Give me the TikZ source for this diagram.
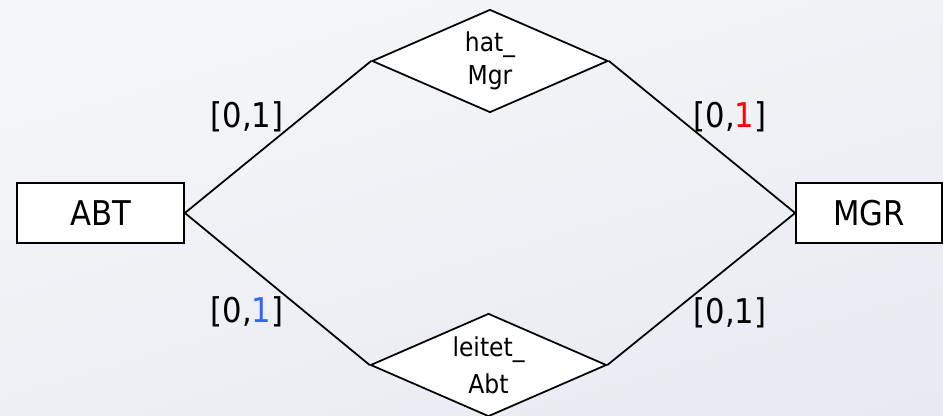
\documentclass[tikz,border=0pt]{standalone}
\usepackage{fontspec}
\setmainfont{DejaVu Sans Condensed}
\usepackage{xcolor}
\usetikzlibrary{shapes.geometric,positioning,calc,shadings}
\definecolor{bgtop}{RGB}{246,247,249}
\definecolor{bgbottom}{RGB}{231,234,241}
\definecolor{cardred}{RGB}{255,0,0}
\definecolor{cardblue}{RGB}{51,102,255}
\tikzset{
    entity/.style={rectangle, draw, fill=white, line width=1pt, minimum height=1.2cm, inner sep=0pt, font=\fontsize{19.4}{23}\selectfont},
    relation/.style={diamond, draw, fill=white, line width=1pt, aspect=2.3, inner sep=0pt, minimum width=4.72cm, minimum height=2.06cm, align=center, font=\fontsize{14.8}{16}\selectfont},
    link/.style={draw, line width=1pt},
    card/.style={inner sep=0pt, font=\fontsize{19.4}{23}\selectfont}
}
\begin{document}
\begin{tikzpicture}
    % Background
    \useasboundingbox (0,0) rectangle (18.86,8.32);
    \shade [upper left=bgtop, upper right=bgtop!60!bgbottom, lower left=bgtop!40!bgbottom, lower right=bgbottom] (0,0) rectangle (18.86,8.32);

    % Entities
    \node [entity, minimum width=3.34cm] (abt) at (2.01,4.06) {ABT};
    \node [entity, minimum width=2.92cm] (mgr) at (17.38,4.06) {MGR};

    % Relationships
    \node [relation] (hat) at (9.8,7.1) {hat\_\\[2.5pt]Mgr};
    \node [relation] (leitet) at (9.77,1.02) {leitet\_\\[5pt]Abt};

    % Connections
    \path [link] (abt.east) -- (hat.west);
    \path [link] (abt.east) -- (leitet.west);
    \path [link] (hat.east) -- (mgr.west);
    \path [link] (leitet.east) -- (mgr.west);

    % Cardinalities
    \node [card] (cardhatabt) at ([shift={(2.93cm,1.92cm)}]abt) {[0,1]};
    \node [card] (cardhatmgr) at ([shift={(-2.78cm,1.92cm)}]mgr) {[0,\textcolor{cardred}{1}]};
    \node [card] (cardleitetabt) at ([shift={(2.93cm,-1.98cm)}]abt) {[0,\textcolor{cardblue}{1}]};
    \node [card] (cardleitetmgr) at ([shift={(-2.78cm,-2.0cm)}]mgr) {[0,1]};
\end{tikzpicture}
\end{document}
